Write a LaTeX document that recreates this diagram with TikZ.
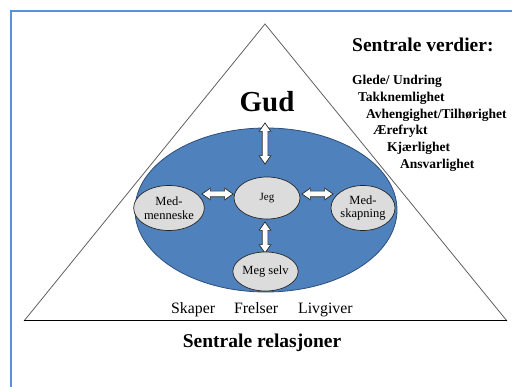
\documentclass[tikz,border=0pt]{standalone}
\usepackage{fontspec}
\setmainfont{Liberation Serif}
\usetikzlibrary{shapes.geometric,shapes.arrows}
\definecolor{framecol}{HTML}{5B8FD6}
\definecolor{ovalblue}{HTML}{4F81BD}
\definecolor{ovaledge}{HTML}{2F4F7A}
\definecolor{smallfill}{HTML}{DCDCDC}
\definecolor{trigray}{HTML}{606060}
\begin{document}
\begin{tikzpicture}[x=1pt,y=-1pt,
  smallov/.style={ellipse, draw=black!85, line width=0.7pt, fill=smallfill, inner sep=0pt, align=center,
    font=\fontsize{12.5}{13.5}\selectfont},
  dblarrow/.style={double arrow, draw=black!85, fill=white, line width=0.7pt, inner xsep=0pt, inner ysep=2.5pt,
    double arrow head extend=3pt, double arrow tip angle=70, minimum height=#1},
  valtxt/.style={anchor=base west, inner sep=0pt, font=\bfseries\fontsize{13.5}{14}\selectfont},
  reltxt/.style={anchor=base west, inner sep=0pt, font=\fontsize{15.8}{16}\selectfont},
  headtxt/.style={inner sep=0pt, font=\bfseries\fontsize{19.5}{20}\selectfont}]
\useasboundingbox (0,0) rectangle (512,387);
% frame
\draw[framecol, line width=2pt] (11,420) -- (11,11) -- (540,11);
% triangle
\coordinate (apex) at (265,24);
\coordinate (bl) at (24,321);
\coordinate (br) at (507,321);
\draw[trigray, line width=0.8pt] (bl) -- (apex) -- (br);
\draw[black, line width=1pt] (bl) -- (br);
% big oval
\node[ellipse, draw=ovaledge, line width=0.8pt, fill=ovalblue, minimum width=262pt, minimum height=164pt, inner sep=0pt] (oval) at (266,210) {};
% arrows
\node[dblarrow=41pt, rotate=90] (a1) at (265,143.5) {};
\node[dblarrow=31pt] (a2) at (217.5,194) {};
\node[dblarrow=31pt] (a3) at (317.5,194) {};
\node[dblarrow=31pt, rotate=90] (a4) at (265,237.5) {};
% small ovals
\node[smallov, minimum width=66pt, minimum height=42pt, font=\fontsize{11}{12}\selectfont] (jeg) at (267,198) {Jeg};
\node[smallov, minimum width=66pt, minimum height=45pt] (mm) at (169,208) {Med-\\menneske};
\node[smallov, minimum width=64pt, minimum height=45pt] (ms) at (363,208) {Med-\\skapning};
\node[smallov, minimum width=57pt, minimum height=39pt] (ms2) at (265.5,271.5) {Meg selv};
% Gud
\node[inner sep=0pt, font=\bfseries\fontsize{29}{29}\selectfont, anchor=base] (gud) at (267,112) {Gud};
% values
\node[headtxt, anchor=base west] (sv) at (352,52) {Sentrale verdier:};
\node[valtxt] (v1) at (352,85) {Glede/ Undring};
\node[valtxt] (v2) at (358,102) {Takknemlighet};
\node[valtxt] (v3) at (366,119) {Avhengighet/Tilhørighet};
\node[valtxt] (v4) at (373,135) {Ærefrykt};
\node[valtxt] (v5) at (387,152) {Kjærlighet};
\node[valtxt] (v6) at (400,169) {Ansvarlighet};
% relations
\node[reltxt] (r1) at (171,314) {Skaper};
\node[reltxt] (r2) at (234,314) {Frelser};
\node[reltxt] (r3) at (298,314) {Livgiver};
\node[headtxt, anchor=base] (sr) at (262,348) {Sentrale relasjoner};
\end{tikzpicture}
\end{document}
